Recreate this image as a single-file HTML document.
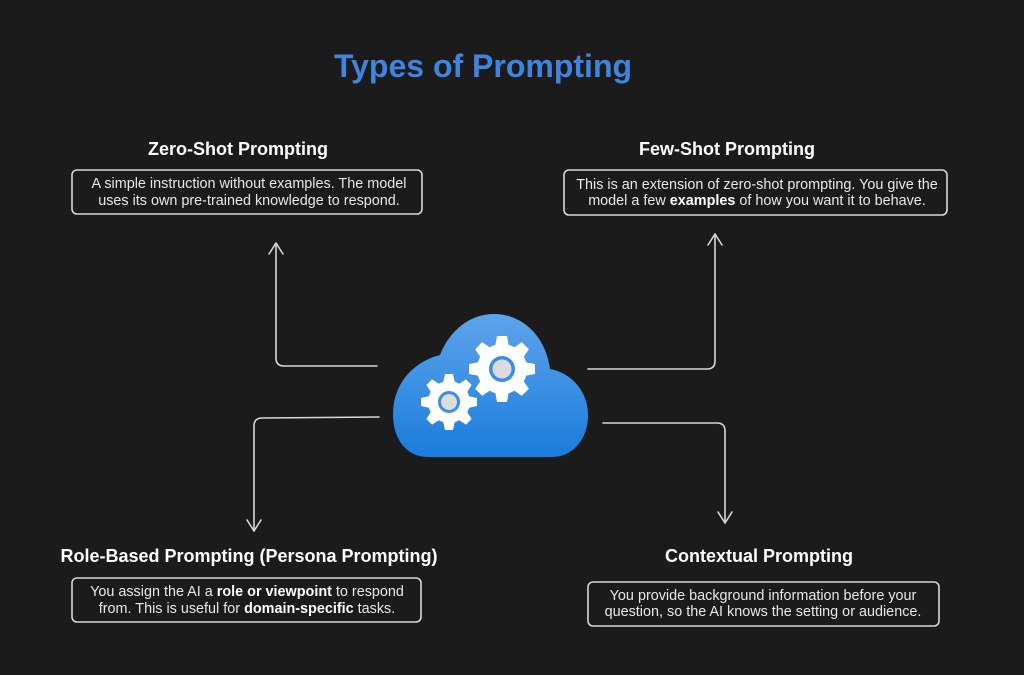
<!DOCTYPE html>
<html><head><meta charset="utf-8"><style>
html,body{margin:0;padding:0;background:#1b1b1b;}
svg{display:block;}
text{font-family:"Liberation Sans",Arial,sans-serif;}
.h{font-size:18px;font-weight:bold;fill:#fff;}
.b{font-size:14.4px;fill:#e8e8e8;}
.bb{font-weight:bold;fill:#fff;}
.box{fill:none;stroke:#d8d8d8;stroke-width:1.6;}
.ln{fill:none;stroke:#d8d8d8;stroke-width:1.6;stroke-linecap:round;stroke-linejoin:round;}
</style></head><body>
<svg width="1024" height="675" viewBox="0 0 1024 675" xmlns="http://www.w3.org/2000/svg">
<defs>
<linearGradient id="cg" x1="0" y1="0" x2="0" y2="1">
<stop offset="0" stop-color="#5ea3ec"/><stop offset="1" stop-color="#1a7ddb"/>
</linearGradient>
</defs>
<rect width="1024" height="675" fill="#1b1b1b"/>
<text x="483" y="77" text-anchor="middle" font-size="32" font-weight="bold" fill="#3f84de" font-family="Liberation Sans, sans-serif">Types of Prompting</text>

<text class="h" x="238" y="155" text-anchor="middle">Zero-Shot Prompting</text>
<rect class="box" x="72" y="170" width="350" height="44" rx="5"/>
<text class="b" x="249" y="188" text-anchor="middle">A simple instruction without examples. The model</text>
<text class="b" x="249" y="205" text-anchor="middle">uses its own pre-trained knowledge to respond.</text>

<text class="h" x="727" y="155" text-anchor="middle">Few-Shot Prompting</text>
<rect class="box" x="564" y="170" width="383" height="45" rx="5"/>
<text class="b" x="757" y="189" text-anchor="middle">This is an extension of zero-shot prompting. You give the</text>
<text class="b" x="757" y="205" text-anchor="middle">model a few <tspan class="bb">examples</tspan> of how you want it to behave.</text>

<text class="h" x="249" y="562" text-anchor="middle">Role-Based Prompting (Persona Prompting)</text>
<rect class="box" x="72" y="578" width="349" height="44" rx="5"/>
<text class="b" x="247" y="596" text-anchor="middle">You assign the AI a <tspan class="bb">role or viewpoint</tspan> to respond</text>
<text class="b" x="247" y="613" text-anchor="middle">from. This is useful for <tspan class="bb">domain-specific</tspan> tasks.</text>

<text class="h" x="759" y="562" text-anchor="middle">Contextual Prompting</text>
<rect class="box" x="588" y="582" width="351" height="44" rx="5"/>
<text class="b" x="763" y="600" text-anchor="middle">You provide background information before your</text>
<text class="b" x="763" y="616" text-anchor="middle">question, so the AI knows the setting or audience.</text>

<!-- connectors -->
<path class="ln" d="M377 366 L284 366 Q276 366 276 358 L276 244"/>
<path class="ln" d="M269 254 L276 243 L283 254"/>
<path class="ln" d="M588 369 L707 369 Q715 369 715 361 L715 234"/>
<path class="ln" d="M708 245 L715 234 L722 245"/>
<path class="ln" d="M379 417 L262 418 Q254 418 254 426 L254 531"/>
<path class="ln" d="M247 520 L254 531 L261 520"/>
<path class="ln" d="M603 423 L717 423 Q725 423 725 431 L725 523"/>
<path class="ln" d="M718 512 L725 523 L732 512"/>

<!-- cloud -->
<path fill="url(#cg)" d="M428 457 C407 457 393 440 393 414 C393 384 413 362 440 355 C450 330 470 314 494 314 C523 314 546 337 550 369 C572 373 588 392 588 415 C588 440 572 457 552 457 Z"/>
<g transform="translate(502,369)" fill="#fff">
<circle r="25"/>
<g id="tb"><path d="M-7 -22 L-5 -33 L5 -33 L7 -22 Z"/></g>
<use href="#tb" transform="rotate(45)"/><use href="#tb" transform="rotate(90)"/><use href="#tb" transform="rotate(135)"/>
<use href="#tb" transform="rotate(180)"/><use href="#tb" transform="rotate(225)"/><use href="#tb" transform="rotate(270)"/><use href="#tb" transform="rotate(315)"/>
<circle r="13" fill="#3a8ee6"/><circle r="9.5" fill="#dcdcdc"/>
</g>
<g transform="translate(449,402)" fill="#fff">
<circle r="21"/>
<g id="ts"><path d="M-6 -19 L-4 -28 L4 -28 L6 -19 Z"/></g>
<use href="#ts" transform="rotate(45)"/><use href="#ts" transform="rotate(90)"/><use href="#ts" transform="rotate(135)"/>
<use href="#ts" transform="rotate(180)"/><use href="#ts" transform="rotate(225)"/><use href="#ts" transform="rotate(270)"/><use href="#ts" transform="rotate(315)"/>
<circle r="11" fill="#3a8ee6"/><circle r="8" fill="#dcdcdc"/>
</g>
</svg>
</body></html>
